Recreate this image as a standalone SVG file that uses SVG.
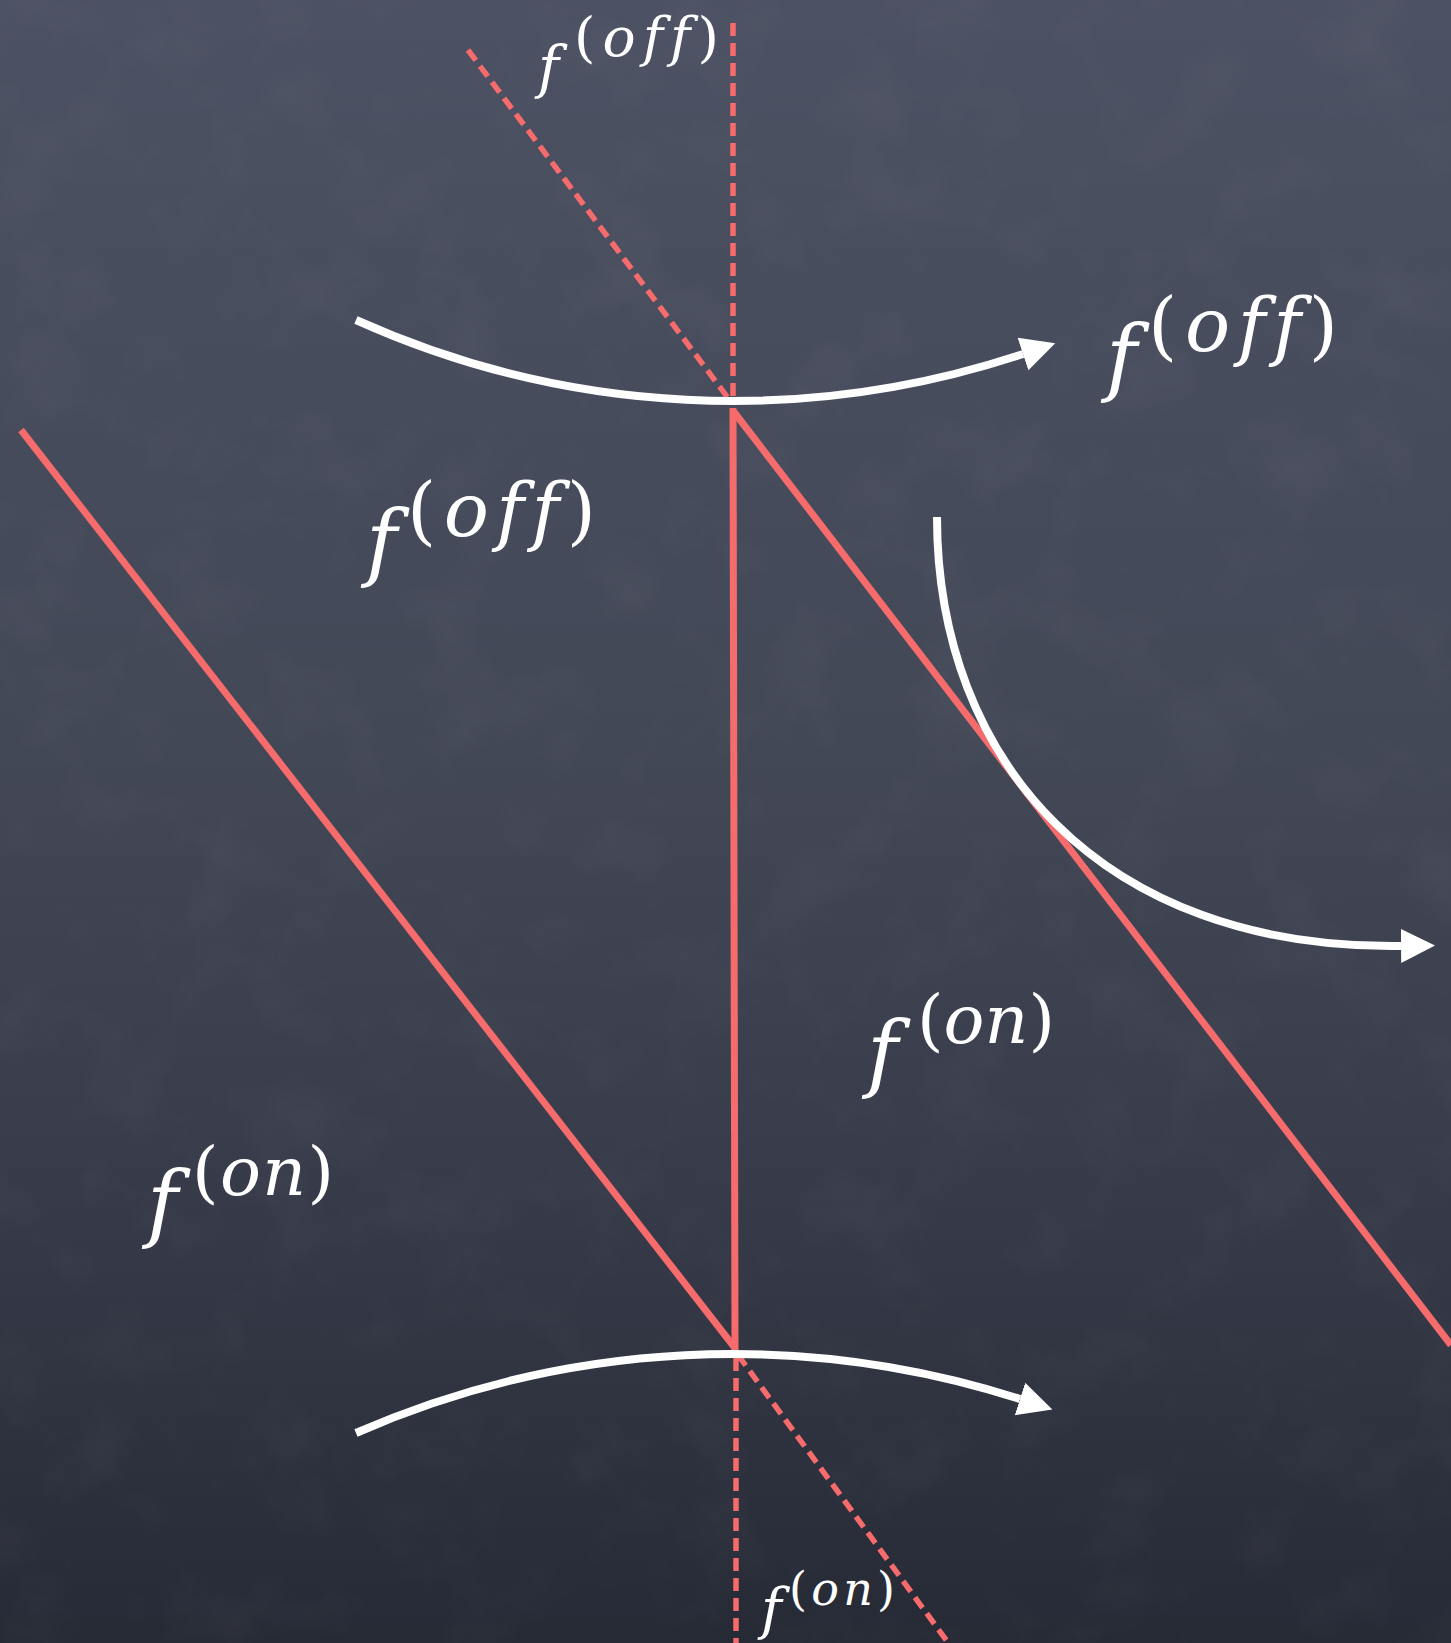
<svg xmlns="http://www.w3.org/2000/svg" width="1451" height="1643" viewBox="0 0 1451 1643">
  <defs>
    <linearGradient id="bg" x1="0" y1="0" x2="0" y2="1">
      <stop offset="0" stop-color="#4c5163"/>
      <stop offset="0.45" stop-color="#434857"/>
      <stop offset="0.75" stop-color="#363a48"/>
      <stop offset="1" stop-color="#262a35"/>
    </linearGradient>
    <filter id="chalk" x="0" y="0" width="100%" height="100%">
      <feTurbulence type="fractalNoise" baseFrequency="0.012" numOctaves="4" seed="7" result="n"/>
      <feColorMatrix type="matrix" values="0 0 0 0 1  0 0 0 0 1  0 0 0 0 1  0.9 0 0 0 -0.42"/>
    </filter>
    <marker id="ah" markerUnits="userSpaceOnUse" viewBox="0 -20 40 40" refX="0" refY="0" markerWidth="40" markerHeight="40" orient="auto">
      <path d="M0,-17 L34,0 L0,17 Z" fill="#ffffff"/>
    </marker>
    <style>
      .red { stroke: #f66b6b; stroke-width: 7; fill: none; }
      .dash { stroke: #f66b6b; stroke-width: 5.5; fill: none; stroke-dasharray: 13 7; }
      .arc { stroke: #ffffff; stroke-width: 8; fill: none; marker-end: url(#ah); }
      .lbl { fill: #ffffff; font-family: "DejaVu Serif", serif; font-style: italic; font-variant-ligatures: none; font-feature-settings: "liga" 0, "clig" 0; }
      .p { font-style: normal; }
    </style>
  </defs>

  <rect width="1451" height="1643" fill="url(#bg)"/>
  <rect width="1451" height="1643" filter="url(#chalk)" opacity="0.08"/>

  <g id="connectors">
    <line class="dash" x1="733" y1="23" x2="733" y2="400"/>
    <line class="dash" x1="468" y1="50" x2="731" y2="402"/>
    <line class="dash" x1="736" y1="1358" x2="736" y2="1643"/>
    <line class="dash" x1="738" y1="1355" x2="952" y2="1648"/>
    <line class="red" x1="733" y1="408" x2="735" y2="1350"/>
    <line class="red" x1="21" y1="430" x2="735" y2="1348"/>
    <line class="red" x1="734" y1="412" x2="1451" y2="1345"/>
    <path class="arc" d="M356,320 A918,918 0 0 0 1023,354"/>
    <path class="arc" d="M356,1433 A939,939 0 0 1 1020,1399"/>
    <path class="arc" d="M937,517 C937,760 1100,950 1401,946"/>
  </g>

  <g id="label-off-top">
    <text class="lbl"><tspan x="538" y="87" font-size="57">f</tspan><tspan x="574" y="56" font-size="55" textLength="145" lengthAdjust="spacing"><tspan class="p">(</tspan>off<tspan class="p">)</tspan></tspan></text>
  </g>
  <g id="label-off-right">
    <text class="lbl"><tspan x="1106" y="385" font-size="84">f</tspan><tspan x="1148" y="351" font-size="75" textLength="190" lengthAdjust="spacing"><tspan class="p">(</tspan>off<tspan class="p">)</tspan></tspan></text>
  </g>
  <g id="label-off-mid">
    <text class="lbl"><tspan x="366" y="570" font-size="84">f</tspan><tspan x="407" y="536" font-size="75" textLength="189" lengthAdjust="spacing"><tspan class="p">(</tspan>off<tspan class="p">)</tspan></tspan></text>
  </g>
  <g id="label-on-mid">
    <text class="lbl"><tspan x="867" y="1081" font-size="84">f</tspan><tspan x="917" y="1043" font-size="68" textLength="138" lengthAdjust="spacing"><tspan class="p">(</tspan>on<tspan class="p">)</tspan></tspan></text>
  </g>
  <g id="label-on-left">
    <text class="lbl"><tspan x="147" y="1231" font-size="84">f</tspan><tspan x="192" y="1195" font-size="68" textLength="142" lengthAdjust="spacing"><tspan class="p">(</tspan>on<tspan class="p">)</tspan></tspan></text>
  </g>
  <g id="label-on-bottom">
    <text class="lbl"><tspan x="761" y="1628" font-size="56">f</tspan><tspan x="789" y="1605" font-size="46" textLength="106" lengthAdjust="spacing"><tspan class="p">(</tspan>on<tspan class="p">)</tspan></tspan></text>
  </g>
</svg>
